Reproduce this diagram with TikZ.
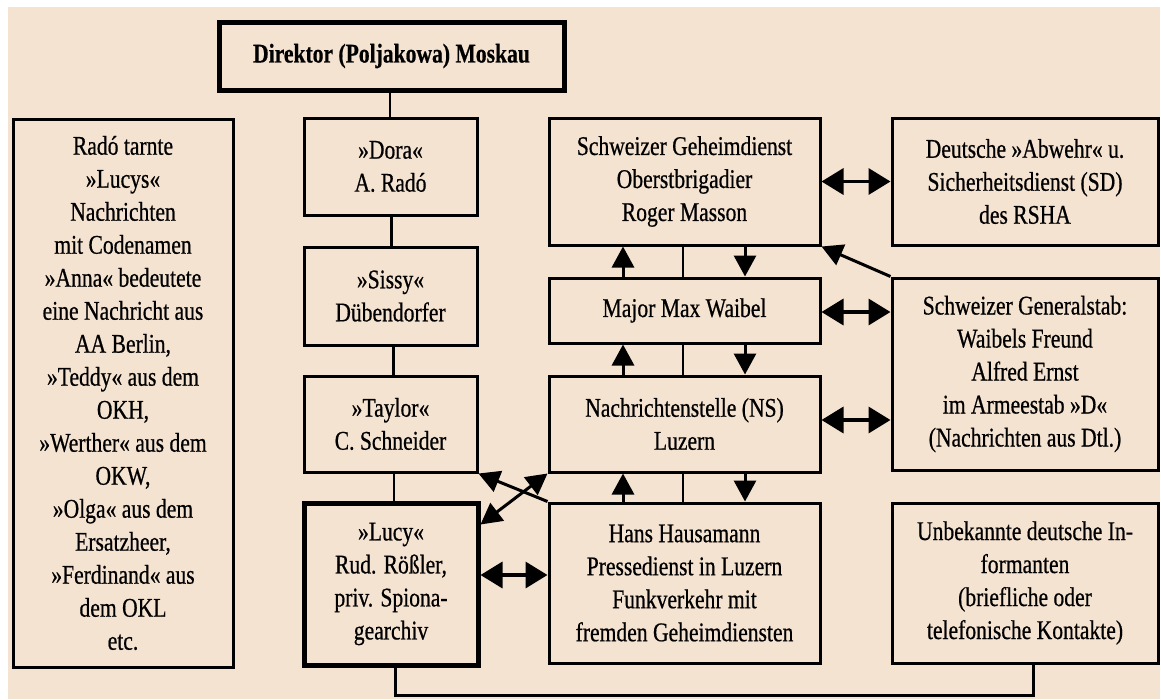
\documentclass[tikz,border=0pt]{standalone}
\usepackage{fontspec}
\setmainfont{Liberation Serif}[FakeStretch=0.8, FakeBold=0.6]
\usetikzlibrary{arrows.meta}
\definecolor{bg}{RGB}{245,227,209}
\begin{document}
\begin{tikzpicture}[x=1pt,y=-1pt,
  box/.style={draw=black, line width=3pt, fill=bg, inner sep=0pt, align=center,
    font=\fontsize{27}{33}\selectfont},
  thickbox/.style={box, line width=5pt},
  link/.style={line width=2.4pt},
  arr/.style={line width=3pt, -{Triangle[length=21pt,width=22pt]}},
  darr/.style={line width=3.5pt, {Triangle[length=22pt,width=26pt]}-{Triangle[length=22pt,width=26pt]}},
  sarr/.style={line width=3pt, {Triangle[length=21pt,width=22pt]}-{Triangle[length=21pt,width=22pt]}},
]
\useasboundingbox (0,0) rectangle (1161,699);
\fill[white] (0,0) rectangle (1161,699);
\fill[bg] (8,7) rectangle (1160,699);

\node[thickbox, minimum width=345, minimum height=68] (dir) at (391.5,56)
  {\bfseries Direktor (Poljakowa) Moskau};
\node[box, minimum width=220, minimum height=548] (left) at (123,393)
  {Radó tarnte\\»Lucys«\\Nachrichten\\mit Codenamen\\»Anna« bedeutete\\eine Nachricht aus\\AA Berlin,\\»Teddy« aus dem\\OKH,\\»Werther« aus dem\\OKW,\\»Olga« aus dem\\Ersatzheer,\\»Ferdinand« aus\\dem OKL\\etc.};
\node[box, minimum width=173, minimum height=97] (dora) at (390.5,166.5) {»Dora«\\A. Radó};
\node[box, minimum width=173, minimum height=98] (sissy) at (390.5,296) {»Sissy«\\Dübendorfer};
\node[box, minimum width=173, minimum height=96] (taylor) at (390.5,424) {»Taylor«\\C. Schneider};
\node[thickbox, minimum width=174, minimum height=162] (lucy) at (391,584)
  {»Lucy«\\Rud. Rößler,\\priv. Spiona-\\gearchiv};
\node[box, minimum width=271, minimum height=127] (sg) at (684.5,181.5)
  {Schweizer Geheimdienst\\Oberstbrigadier\\Roger Masson};
\node[box, minimum width=266, minimum height=127] (deu) at (1025,181.5)
  {Deutsche »Abwehr« u.\\Sicherheitsdienst (SD)\\des RSHA};
\node[box, minimum width=271, minimum height=65] (waibel) at (684.5,310.5) {Major Max Waibel};
\node[box, minimum width=266, minimum height=192] (gs) at (1025,374)
  {Schweizer Generalstab:\\Waibels Freund\\Alfred Ernst\\im Armeestab »D«\\(Nachrichten aus Dtl.)};
\node[box, minimum width=271, minimum height=96] (ns) at (684.5,424)
  {Nachrichtenstelle (NS)\\Luzern};
\node[box, minimum width=271, minimum height=160] (haus) at (684.5,583)
  {Hans Hausamann\\Pressedienst in Luzern\\Funkverkehr mit\\fremden Geheimdiensten};
\node[box, minimum width=266, minimum height=160] (unb) at (1025,583)
  {Unbekannte deutsche In-\\formanten\\(briefliche oder\\telefonische Kontakte)};

% left chain
\draw[link] ([xshift=-1.5pt]dir.south) -- ([xshift=-1.5pt]dir.south |- dora.north);
\draw[link] ([xshift=1pt]dora.south) -- ([xshift=1pt]dora.south |- sissy.north);
\draw[link] ([xshift=3pt]sissy.south) -- ([xshift=3pt]sissy.south |- taylor.north);
\draw[link] ([xshift=3.5pt]taylor.south) -- ([xshift=3.5pt]taylor.south |- lucy.north);
\coordinate (b1) at (395,695);
\draw[line width=3pt] (lucy.south -| b1) -- (b1) -| ([xshift=8pt]unb.south);

% middle column
\foreach \u/\l in {sg/waibel, waibel/ns, ns/haus}{
  \draw[arr] ([xshift=-61.5pt]\l.north) -- ([xshift=-61.5pt]\u.south);
  \draw[link] ([xshift=-1.5pt]\u.south) -- ([xshift=-1.5pt]\l.north);
  \draw[arr] ([xshift=60.5pt]\u.south) -- ([xshift=60.5pt]\l.north);
}

% horizontal double arrows
\draw[darr] (sg) -- (deu);
\draw[darr] ([yshift=-1.5pt]waibel.east) -- ([yshift=-1.5pt]waibel.east -| gs.west);
\draw[darr] ([yshift=4pt]ns.east) -- ([yshift=4pt]ns.east -| gs.west);
\draw[darr] ([yshift=9pt]lucy.east) -- ([yshift=9pt]lucy.east -| haus.west);

% diagonals
\draw[arr] (gs.north west) -- (sg.south east);
\draw[arr] (haus.north west) -- (taylor.south east);
\draw[sarr] ([yshift=-24pt]lucy.north east) -- (ns.south west);
\end{tikzpicture}
\end{document}
